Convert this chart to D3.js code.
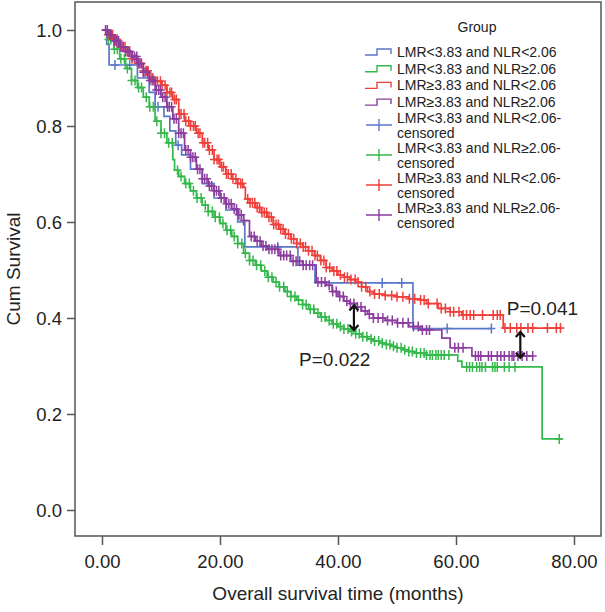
<!DOCTYPE html>
<html>
<head>
<meta charset="utf-8">
<script src="https://cdn.jsdelivr.net/npm/d3@7"></script>
<style>
  body { margin: 0; background: #fff; }
  text { font-family: "Liberation Sans", Arial, Helvetica, sans-serif; fill: #222; }
</style>
</head>
<body>
<script>
// group names (legend order)
const groups = ["LMR<3.83 and NLR<2.06", "LMR<3.83 and NLR\u22652.06", "LMR\u22653.83 and NLR<2.06", "LMR\u22653.83 and NLR\u22652.06"];
const colors = ["#5a78c8", "#35b84b", "#ef3f3b", "#8b3c9f"];

// step points: event times (months) and survival after each step, plus last follow-up
const blueT = [0, 0.8, 1.2, 6, 8, 9, 10.5, 11.5, 12.5, 13.5, 15, 17, 19, 21, 23, 24.2, 33.2, 36.1, 52.7];
const blueS = [1, 0.97, 0.927, 0.9, 0.87, 0.84, 0.82, 0.79, 0.76, 0.74, 0.71, 0.68, 0.65, 0.625, 0.6, 0.548, 0.51, 0.473, 0.378];
const blueEnd = 66;
const blueC = [2.2, 4.7, 9.5, 12.9, 29.8, 47.5, 50.8, 58.5, 66.0];

const greenT = [0, 1, 2, 3, 4, 5, 6, 7, 8, 9, 10, 11, 12, 12.3, 13, 14, 15, 16, 17, 18, 19, 20, 21, 22, 23, 24, 25, 26, 27, 28, 29, 30, 31, 32, 33, 34, 35, 36, 37, 38, 39, 40, 41, 42, 43, 44, 45, 46, 47, 48, 49, 50, 51, 52, 53, 55, 60.3, 61, 74.6];
const greenS = [1, 0.98, 0.96, 0.94, 0.92, 0.895, 0.88, 0.86, 0.84, 0.81, 0.785, 0.765, 0.73, 0.708, 0.695, 0.68, 0.665, 0.65, 0.635, 0.622, 0.61, 0.597, 0.583, 0.57, 0.555, 0.535, 0.52, 0.51, 0.498, 0.485, 0.475, 0.465, 0.455, 0.445, 0.437, 0.428, 0.418, 0.41, 0.402, 0.395, 0.388, 0.382, 0.377, 0.372, 0.367, 0.361, 0.356, 0.352, 0.348, 0.345, 0.341, 0.338, 0.334, 0.33, 0.327, 0.323, 0.31, 0.298, 0.148];
const greenEnd = 78;
const greenC = [1.1, 1.5, 2.1, 2.6, 3.2, 3.8, 4.3, 5.0, 5.6, 6.2, 6.7, 7.5, 8.1, 8.7, 9.3, 10.0, 10.6, 11.3, 11.9, 12.8, 13.4, 14.2, 14.8, 15.5, 16.1, 16.8, 17.5, 18.0, 18.7, 19.2, 19.9, 20.5, 21.2, 21.8, 22.4, 23.0, 23.7, 24.3, 25.0, 25.6, 26.2, 26.9, 27.6, 28.2, 28.8, 29.5, 30.1, 30.8, 31.4, 32.0, 32.7, 33.3, 34.0, 34.6, 35.3, 35.9, 36.6, 37.2, 37.8, 38.5, 39.2, 39.8, 40.4, 41.0, 41.7, 42.3, 43.0, 43.6, 44.2, 44.9, 45.6, 46.2, 46.9, 47.5, 48.2, 48.8, 49.4, 50.0, 50.7, 51.3, 52.0, 52.6, 53.3, 54.0, 54.6, 55.0, 55.6, 56.0, 56.6, 57.0, 57.5, 58.0, 58.8, 61.8, 62.3, 62.8, 63.5, 64.0, 64.4, 65.0, 66.2, 66.6, 67.0, 68.2, 69.0, 70.0, 77.5];

const redT = [0, 1, 2, 3, 4, 5, 6, 7, 8, 9, 10, 11, 12, 13, 14, 15, 16, 17, 18, 19, 20, 21, 22, 23, 24, 24.3, 25, 26, 27, 28, 29, 30, 31, 32, 33, 34, 35, 36, 37, 38, 39, 40, 41, 42, 43, 44, 45, 46, 48, 50, 52, 54, 55, 57, 59, 61, 68];
const redS = [1, 0.99, 0.98, 0.965, 0.955, 0.94, 0.93, 0.915, 0.9, 0.893, 0.885, 0.87, 0.855, 0.825, 0.81, 0.8, 0.785, 0.765, 0.75, 0.73, 0.715, 0.7, 0.69, 0.68, 0.672, 0.648, 0.64, 0.63, 0.62, 0.61, 0.595, 0.585, 0.575, 0.565, 0.555, 0.548, 0.54, 0.53, 0.52, 0.505, 0.498, 0.49, 0.485, 0.48, 0.475, 0.465, 0.455, 0.45, 0.447, 0.444, 0.44, 0.4375, 0.43, 0.42, 0.413, 0.406, 0.379];
const redEnd = 78;
const redC = [1.0, 1.5, 1.8, 2.3, 2.6, 3.1, 3.4, 3.9, 4.3, 4.6, 5.1, 5.5, 5.8, 6.3, 6.7, 7.0, 7.5, 7.8, 8.3, 8.6, 9.1, 9.4, 9.9, 10.2, 10.7, 11.0, 11.5, 11.8, 12.3, 12.6, 13.1, 13.4, 13.9, 14.2, 14.7, 15.0, 15.5, 15.8, 16.3, 16.6, 17.1, 17.4, 17.9, 18.2, 18.7, 19.0, 19.5, 19.8, 20.3, 20.6, 21.1, 21.4, 21.9, 22.2, 22.7, 23.0, 23.5, 23.8, 24.7, 25.1, 25.5, 25.9, 26.3, 26.7, 27.1, 27.5, 27.9, 28.3, 28.7, 29.1, 29.5, 29.9, 30.3, 30.7, 31.1, 31.6, 32.1, 32.5, 33.0, 33.6, 34.1, 34.5, 35.0, 35.6, 36.1, 36.5, 37.1, 37.6, 38.0, 38.6, 39.3, 39.8, 40.4, 41.1, 41.6, 42.2, 42.9, 43.4, 44.0, 44.7, 45.4, 46.2, 47.0, 48.0, 49.1, 50.0, 51.0, 52.1, 53.0, 54.0, 54.6, 55.3, 56.8, 57.5, 58.2, 59.0, 59.6, 60.5, 61.2, 61.8, 62.4, 63.0, 64.5, 66.3, 67.0, 67.5, 68.3, 69.2, 70.3, 71.0, 72.2, 73.0, 75.5, 77.0, 77.7];

const purpleT = [0, 1, 2, 3, 4, 5, 6, 7, 8, 9, 10, 11, 12, 13, 14, 15, 16, 17, 18, 19, 20, 21, 22, 23, 24, 25, 26, 27, 28, 30, 32, 34, 36.3, 38, 39, 40, 41, 42, 43, 44, 45, 46, 48, 50, 52, 54, 57.6, 59, 62.7];
const purpleS = [1, 0.99, 0.977, 0.965, 0.955, 0.945, 0.93, 0.912, 0.895, 0.875, 0.86, 0.84, 0.815, 0.785, 0.75, 0.735, 0.71, 0.69, 0.675, 0.665, 0.65, 0.638, 0.627, 0.615, 0.603, 0.57, 0.56, 0.55, 0.543, 0.53, 0.518, 0.51, 0.475, 0.468, 0.455, 0.445, 0.435, 0.43, 0.423, 0.415, 0.408, 0.4, 0.395, 0.39, 0.382, 0.375, 0.358, 0.338, 0.321];
const purpleEnd = 73;
const purpleC = [0.6, 0.9, 1.3, 1.6, 2.1, 2.4, 2.8, 3.2, 3.6, 4.0, 4.4, 4.7, 5.1, 5.5, 5.9, 6.2, 6.6, 7.0, 7.3, 7.7, 8.1, 8.5, 8.8, 9.2, 9.6, 9.9, 10.3, 10.7, 11.1, 11.4, 11.8, 12.2, 12.6, 13.0, 13.4, 13.8, 14.2, 14.6, 15.0, 15.4, 15.8, 16.2, 16.6, 17.0, 17.4, 17.8, 18.2, 18.6, 19.0, 19.4, 19.8, 20.2, 20.7, 21.1, 21.5, 21.9, 22.4, 22.8, 23.2, 23.6, 24.0, 25.3, 25.8, 26.3, 26.8, 27.3, 27.8, 28.3, 28.8, 29.3, 29.8, 30.3, 30.8, 31.3, 31.9, 32.4, 32.9, 33.5, 34.1, 34.6, 35.2, 35.7, 36.6, 37.2, 37.8, 38.5, 39.1, 39.7, 40.3, 40.9, 41.5, 42.1, 42.7, 43.3, 43.9, 44.6, 45.3, 46.0, 46.8, 47.6, 48.4, 49.2, 50.1, 51.0, 51.9, 52.8, 53.6, 54.3, 55.0, 55.5, 59.8, 60.4, 61.2, 63.3, 63.8, 64.2, 65.5, 66.0, 67.0, 67.6, 68.2, 69.0, 69.5, 69.8, 70.5, 71.2, 72.0, 73.0];

const xTicks = [0, 20, 40, 60, 80];
const yTicks = [0, 0.2, 0.4, 0.6, 0.8, 1.0];

// p-value annotations: [time, survival top, survival bottom], label position
const arrows = [[42.7, 0.426, 0.375], [70.9, 0.371, 0.317]];
const pLabels = [["P=0.022", 33.4, 0.3], ["P=0.041", 68.6, 0.406]];

const series = [
  {T: blueT, S: blueS, end: blueEnd, C: blueC},
  {T: greenT, S: greenS, end: greenEnd, C: greenC},
  {T: redT, S: redS, end: redEnd, C: redC},
  {T: purpleT, S: purpleS, end: purpleEnd, C: purpleC}
];

const width = 605, height = 612;
const box = {left: 75, right: 601, top: 2, bottom: 536};

const x = d3.scaleLinear().domain([-4.576, 84.576]).range([box.left, box.right]);
const y = d3.scaleLinear().domain([-0.0542, 1.0583]).range([box.bottom, box.top]);

const svg = d3.select("body").append("svg")
  .attr("width", width)
  .attr("height", height);

// axes
const xAxis = g => g
  .attr("transform", `translate(0,${box.bottom})`)
  .call(d3.axisBottom(x).tickValues(xTicks).tickFormat(d3.format(".2f")).tickSize(9).tickSizeOuter(0))
  .call(g => g.select(".domain").remove())
  .call(g => g.selectAll(".tick line").attr("stroke", "#555").attr("stroke-width", 1.5))
  .call(g => g.selectAll(".tick text").attr("dy", 0).attr("y", 32).style("font-size", "18.5px"));

const yAxis = g => g
  .attr("transform", `translate(${box.left},0)`)
  .call(d3.axisLeft(y).tickValues(yTicks).tickFormat(d3.format(".1f")).tickSize(8).tickSizeOuter(0))
  .call(g => g.select(".domain").remove())
  .call(g => g.selectAll(".tick line").attr("stroke", "#555").attr("stroke-width", 1.5))
  .call(g => g.selectAll(".tick text").attr("x", -13).attr("dy", "0.36em").style("font-size", "18.5px"));

svg.append("g").call(xAxis);
svg.append("g").call(yAxis);

svg.append("rect")
  .attr("x", box.left).attr("y", box.top)
  .attr("width", box.right - box.left).attr("height", box.bottom - box.top)
  .attr("fill", "none").attr("stroke", "#555").attr("stroke-width", 1.5);

svg.append("text")
  .attr("x", (box.left + box.right) / 2).attr("y", 600)
  .attr("text-anchor", "middle")
  .style("font-size", "19px")
  .text("Overall survival time (months)");

svg.append("text")
  .attr("transform", `translate(20,${(box.top + box.bottom) / 2}) rotate(-90)`)
  .attr("text-anchor", "middle")
  .style("font-size", "19px")
  .text("Cum Survival");

// curves
const line = d3.line().x(d => x(d[0])).y(d => y(d[1])).curve(d3.curveStepAfter);

function survAt(s, t) {
  const i = d3.bisectRight(s.T, t) - 1;
  return s.S[Math.max(0, i)];
}

series.forEach((s, i) => {
  const pts = s.T.map((t, j) => [t, s.S[j]]);
  pts.push([s.end, s.S[s.S.length - 1]]);
  svg.append("path")
    .datum(pts)
    .attr("fill", "none")
    .attr("stroke", colors[i])
    .attr("stroke-width", 1.7)
    .attr("d", line);

  svg.append("g")
    .selectAll("path")
    .data(s.C)
    .enter().append("path")
      .attr("transform", t => `translate(${x(t)},${y(survAt(s, t))})`)
      .attr("d", "M-4,0H4M0,-5V5")
      .attr("stroke", colors[i])
      .attr("stroke-width", 1.5);
});

// arrows
arrows.forEach(a => {
  const ax = x(a[0]), y1 = y(a[1]), y2 = y(a[2]);
  svg.append("path")
    .attr("d", `M${ax},${y1}V${y2}M${ax - 4.5},${y1 + 5}L${ax},${y1}L${ax + 4.5},${y1 + 5}M${ax - 4.5},${y2 - 5}L${ax},${y2}L${ax + 4.5},${y2 - 5}`)
    .attr("fill", "none")
    .attr("stroke", "#111")
    .attr("stroke-width", 2.2);
});

svg.append("g")
  .selectAll("text")
  .data(pLabels)
  .enter().append("text")
    .attr("x", d => x(d[1]))
    .attr("y", d => y(d[2]))
    .style("font-size", "19px")
    .text(d => d[0]);

// legend
const lg = svg.append("g").style("font-size", "14px");
lg.append("text").attr("x", 477).attr("y", 32).attr("text-anchor", "middle").text("Group");

groups.forEach((name, i) => {
  const by = 57 + i * 16.7;
  lg.append("path")
    .attr("d", `M365,${by - 2}H377V${by - 8}H391V${by - 3}`)
    .attr("fill", "none").attr("stroke", colors[i]).attr("stroke-width", 1.4);
  lg.append("text").attr("x", 397).attr("y", by).text(name);
});

groups.forEach((name, i) => {
  const by = 123 + i * 30;
  lg.append("path")
    .attr("d", `M366,${by + 2}H392M379,${by - 4}V${by + 8}`)
    .attr("fill", "none").attr("stroke", colors[i]).attr("stroke-width", 1.4);
  lg.append("text").attr("x", 397).attr("y", by).text(name + "-");
  lg.append("text").attr("x", 397).attr("y", by + 15).text("censored");
});
</script>
</body>
</html>
